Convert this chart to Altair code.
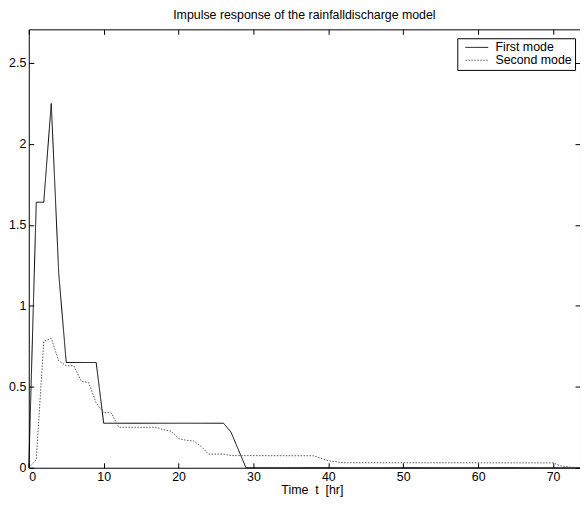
import altair as alt
import pandas as pd

# First mode breakpoints
t1 = [0, 1, 2, 3, 4, 5, 9, 10, 26, 27, 29, 73.6]
y1 = [0, 1.64, 1.64, 2.25, 1.2, 0.65, 0.65, 0.275, 0.275, 0.22, 0, 0]

# Second mode breakpoints
t2 = [0, 1, 2, 3, 4, 5, 6, 7, 8, 9, 10, 11, 12, 17, 18, 19, 20, 21, 22, 23, 24,
      26, 27, 38, 40, 42, 70, 71, 72.4, 73.6]
y2 = [0, 0.05, 0.78, 0.80, 0.66, 0.63, 0.63, 0.535, 0.525, 0.40, 0.34, 0.34, 0.25,
      0.25, 0.235, 0.226, 0.18, 0.17, 0.165, 0.132, 0.084, 0.084, 0.075, 0.074,
      0.043, 0.031, 0.03, 0.012, 0.003, 0]

series_names = ["First mode", "Second mode"]
x_ticks = [0, 10, 20, 30, 40, 50, 60, 70]
y_ticks = [0, 0.5, 1, 1.5, 2, 2.5]

df = pd.concat([
    pd.DataFrame({"t": t1, "v": y1, "s": series_names[0], "o": range(len(t1))}),
    pd.DataFrame({"t": t2, "v": y2, "s": series_names[1], "o": range(len(t2))}),
])

FONT = "Liberation Sans"
FS = 12.5
xs = alt.Scale(domain=[0, 73.6], nice=False, zero=False)
ys = alt.Scale(domain=[0, 2.708], nice=False, zero=False)

leg = alt.Legend(title=None, orient="none", legendX=433, legendY=9)

lines = alt.Chart(df).mark_line(strokeWidth=1).encode(
    x=alt.X("t:Q", scale=xs, axis=alt.Axis(
        orient="bottom", values=x_ticks, offset=-5, tickSize=5, domain=False,
        labelPadding=3, title="Time\u00a0 t\u00a0 [hr]", titlePadding=1, titleX=286,
        grid=False)),
    y=alt.Y("v:Q", scale=ys, axis=alt.Axis(
        orient="left", values=y_ticks, offset=-5, tickSize=5, domain=False, format="~g",
        labelPadding=3, title=None, grid=False)),
    order="o:Q",
    color=alt.Color("s:N", scale=alt.Scale(domain=series_names, range=["#000000", "#555555"]),
                    legend=leg),
    strokeDash=alt.StrokeDash("s:N", scale=alt.Scale(domain=series_names, range=[[1, 0], [1.5, 1.5]]),
                              legend=leg),
)

ghost = alt.Chart(df).mark_line(opacity=0).encode(
    x=alt.X("t:Q", scale=xs, axis=alt.Axis(
        orient="top", values=x_ticks, offset=-5, tickSize=5, domain=False,
        labels=False, title=None, grid=False)),
    y=alt.Y("v:Q", scale=ys, axis=alt.Axis(
        orient="right", values=y_ticks, offset=-5, tickSize=5, domain=False,
        labels=False, title=None, grid=False)),
    detail="s:N",
    order="o:Q",
)

chart = alt.layer(lines, ghost).resolve_axis(x="independent", y="independent").properties(
    width=557, height=443,
    padding={"left": 21, "top": 19, "right": 0, "bottom": 27},
    autosize=alt.AutoSizeParams(type="none"),
    title=alt.TitleParams("Impulse response of the rainfalldischarge model",
                          fontSize=FS, font=FONT, fontWeight="normal", offset=7, color="black"),
).configure_view(stroke="black", strokeWidth=1).configure_axis(
    labelFont=FONT, labelFontSize=FS, labelColor="black", tickColor="black",
    titleFont=FONT, titleFontSize=FS, titleFontWeight="normal", titleColor="black",
).configure_legend(
    strokeColor="black", fillColor="white", padding=3, labelFont=FONT, labelFontSize=FS,
    labelColor="black", symbolType="M-0.2,0L4.4,0", symbolSize=100, symbolStrokeWidth=1,
    rowPadding=0, labelOffset=23, cornerRadius=0,
)

chart.save("out.html", embed_options={"renderer": "svg", "actions": False})
